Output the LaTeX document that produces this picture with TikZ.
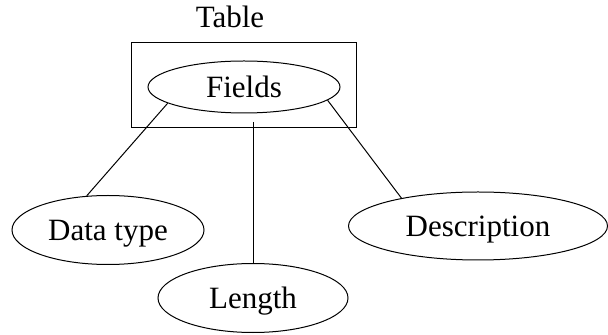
\documentclass[tikz,border=0pt]{standalone}
\usepackage{fontspec}
\setmainfont{Liberation Serif}
\usetikzlibrary{shapes.geometric}
\begin{document}
\begin{tikzpicture}[x=0.5pt,y=-0.5pt,
  lbl/.style={font=\fontsize{15.5}{18}\selectfont},
  attr/.style={draw,ellipse,inner sep=0pt,line width=0.5pt,lbl},
  leaf/.style={attr,text depth=0pt},
  conn/.style={line width=0.5pt}]
\useasboundingbox (0,0) rectangle (608,335);
% table frame and its title
\node[draw,line width=0.5pt,minimum width=112.5pt,minimum height=42.5pt,inner sep=0pt] (table) at (243.5,85.5) {};
\node[anchor=base,lbl,inner sep=0pt] (title) at (230,28) {Table};
% entity and attributes
\node[attr,minimum width=96pt,minimum height=26pt] (fields) at (244,87) {\raisebox{-2pt}{Fields}};
\node[leaf,minimum width=96pt,minimum height=34.5pt] (dtype) at (108,230) {Data type};
\node[leaf,minimum width=95pt,minimum height=34.5pt] (len) at (253,298) {Length};
\node[leaf,minimum width=129.5pt,minimum height=34pt] (desc) at (478,226) {Description};
\coordinate (stem) at (253,122);
% connectors
\draw[conn] (fields.192) -- (dtype.122);
\draw[conn] (stem) -- (len.north);
\draw[conn] (fields.351) -- (desc.160);
\end{tikzpicture}
\end{document}
